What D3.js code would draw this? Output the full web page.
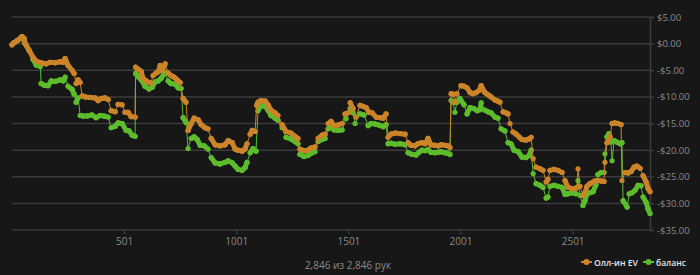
<!DOCTYPE html>
<html><head><meta charset="utf-8">
<script src="https://cdn.jsdelivr.net/npm/d3@7"></script>
<style>
html,body{margin:0;padding:0;background:#171717;}
svg{display:block;font-family:"Open Sans","Noto Sans",sans-serif;}
</style></head>
<body><svg id="c" width="700" height="275"></svg>
<script>
const totalHands = 2846;
const xTickValues = [501, 1001, 1501, 2001, 2501];
const yTickValues = [5, 0, -5, -10, -15, -20, -25, -30, -35];
const seriesNames = ["Олл-ин EV", "баланс"];
const footerText = "2,846 из 2,846 рук";

const evHands = [1,11,26,46,55,60,78,95,109,131,153,171,194,216,229,238,251,269,278,287,296,305,314,327,349,372,385,399,416,430,443,461,474,492,505,519,532,550,552,563,577,585,599,612,621,630,644,653,662,670,684,697,710,724,737,751,764,777,786,800,813,831,844,862,875,889,907,929,951,965,983,996,1009,1027,1040,1049,1063,1072,1085,1092,1098,1112,1130,1143,1156,1174,1187,1205,1223,1245,1263,1276,1285,1303,1321,1334,1352,1366,1384,1397,1411,1424,1437,1455,1473,1486,1500,1509,1522,1535,1553,1566,1580,1593,1607,1625,1642,1656,1669,1678,1691,1709,1731,1754,1767,1780,1798,1811,1829,1843,1856,1869,1887,1901,1914,1932,1945,1954,1959,1968,1976,1985,2003,2017,2030,2044,2057,2070,2084,2093,2110,2124,2137,2155,2168,2177,2191,2204,2213,2222,2235,2249,2262,2275,2293,2307,2316,2325,2338,2356,2369,2383,2391,2400,2418,2436,2454,2467,2480,2498,2511,2520,2525,2534,2547,2556,2565,2578,2592,2601,2614,2628,2641,2645,2654,2668,2677,2690,2703,2717,2721,2735,2748,2762,2775,2788,2802,2815,2829,2837,2846];
const evValues = [-0.2,0.2,0.6,1.3,1.0,0,-1.3,-2.6,-3.3,-3.6,-3.8,-3.5,-3.6,-3.4,-3.5,-2.8,-4.1,-5.0,-5.6,-7.5,-6.8,-7.3,-9.8,-10.0,-10.1,-10.2,-10.7,-10.3,-10.2,-10.5,-12.6,-12.8,-11.4,-11.5,-12.9,-12.9,-13.7,-13.8,-4.4,-4.8,-5.2,-6.5,-7.0,-7.3,-7.4,-6.0,-5.5,-5.3,-4.1,-5.0,-3.8,-5.5,-6.0,-6.3,-6.8,-7.3,-10.3,-11.0,-16.3,-15.0,-14.0,-14.3,-15.2,-15.8,-16.0,-17.8,-19.0,-19.2,-19.0,-18.2,-18.6,-19.8,-20.0,-20.2,-19.8,-18.8,-17.0,-16.3,-16.5,-11.6,-11.0,-10.7,-10.8,-11.5,-12.5,-13.0,-13.5,-15.2,-16.5,-16.8,-17.4,-17.8,-19.8,-20.1,-20.0,-19.6,-19.4,-17.8,-17.2,-17.0,-15.0,-14.6,-15.4,-15.3,-15.0,-13.2,-13.0,-11.1,-12.2,-13.8,-11.6,-11.8,-12.0,-12.9,-13.0,-13.8,-13.9,-14.0,-13.2,-17.6,-17.0,-16.8,-16.9,-17.0,-18.6,-19.1,-19.2,-18.8,-18.6,-18.8,-17.8,-19.0,-19.1,-19.2,-19.0,-19.1,-19.2,-19.5,-9.4,-9.5,-11.0,-9.4,-7.9,-8.0,-8.3,-9.2,-9.4,-9.2,-8.8,-7.9,-9.2,-9.6,-10.0,-10.6,-10.8,-11.0,-12.8,-13.0,-13.2,-15.0,-16.6,-17.0,-17.5,-18.0,-18.1,-17.9,-17.6,-21.6,-23.2,-23.5,-23.8,-26.0,-25.5,-23.8,-23.6,-23.8,-24.2,-25.7,-27.0,-27.2,-27.3,-27.0,-23.5,-26.8,-28.5,-28.0,-26.8,-26.3,-26.0,-25.8,-25.7,-25.8,-25.9,-22.3,-18.6,-17.5,-15.0,-14.9,-15.0,-15.2,-25.7,-24.2,-24.3,-24.0,-23.2,-23.0,-23.4,-24.8,-26.0,-27.2,-27.8];

const balHands = [1,11,26,46,60,78,95,109,127,131,145,162,176,194,216,229,238,251,269,278,287,296,305,318,336,358,376,394,412,430,443,461,474,492,510,523,537,550,552,563,577,594,612,626,639,653,666,684,697,710,728,742,755,764,777,786,800,813,827,840,858,875,889,907,929,951,965,983,996,1009,1027,1040,1049,1063,1076,1089,1098,1112,1130,1143,1156,1174,1187,1205,1223,1245,1263,1276,1285,1303,1321,1334,1352,1366,1384,1397,1411,1424,1437,1455,1473,1491,1509,1522,1531,1553,1571,1589,1602,1620,1638,1656,1669,1678,1691,1709,1731,1754,1767,1785,1803,1816,1829,1843,1856,1869,1887,1901,1914,1932,1945,1954,1959,1968,1976,1985,1998,2017,2030,2044,2061,2075,2088,2093,2110,2124,2137,2155,2168,2182,2199,2213,2226,2240,2258,2275,2293,2307,2316,2325,2338,2356,2369,2383,2391,2400,2418,2436,2454,2467,2480,2498,2516,2525,2534,2547,2556,2565,2578,2592,2605,2614,2628,2641,2645,2654,2663,2672,2677,2686,2699,2712,2721,2726,2744,2753,2766,2780,2793,2806,2815,2829,2837,2846];
const balValues = [-0.2,0.2,0.6,1.3,0,-1.3,-3.0,-4.0,-4.3,-7.5,-7.8,-7.9,-7.0,-7.1,-6.8,-7.0,-6.3,-8.0,-8.6,-9.5,-11.0,-10.2,-13.5,-13.6,-13.6,-13.4,-13.9,-13.5,-13.6,-13.8,-15.8,-15.5,-14.9,-15.0,-16.3,-16.4,-17.2,-17.4,-5.6,-6.2,-6.8,-8.0,-8.5,-8.2,-7.2,-7.0,-6.5,-5.4,-7.0,-7.5,-7.6,-8.3,-8.4,-13.9,-14.8,-19.7,-17.8,-17.5,-18.0,-19.1,-19.2,-19.8,-21.4,-22.4,-22.6,-22.3,-22.0,-22.4,-23.0,-23.6,-23.8,-23.3,-22.3,-20.5,-19.7,-20.2,-12.6,-11.6,-11.8,-12.5,-13.5,-14.0,-14.4,-15.8,-17.6,-17.9,-18.4,-18.8,-20.8,-21.2,-21.0,-20.6,-20.3,-18.4,-18.0,-17.8,-16.0,-15.6,-16.2,-16.3,-16.2,-14.1,-12.2,-13.0,-15.0,-13.2,-13.4,-15.4,-15.0,-15.1,-15.3,-15.6,-15.2,-18.8,-18.7,-18.9,-18.8,-19.0,-20.5,-20.8,-20.9,-20.4,-20.0,-20.1,-19.9,-20.4,-20.5,-20.4,-20.3,-20.5,-20.6,-20.8,-10.7,-11.0,-12.9,-11.0,-10.3,-11.5,-13.2,-12.0,-12.2,-12.6,-12.4,-11.1,-12.5,-12.8,-13.0,-13.8,-14.0,-16.0,-16.4,-18.6,-18.8,-20.0,-20.3,-21.3,-21.4,-21.0,-20.0,-24.4,-26.3,-26.6,-27.0,-29.0,-28.8,-26.8,-26.6,-26.8,-27.0,-28.3,-28.2,-28.0,-28.2,-25.7,-28.5,-30.4,-29.5,-28.2,-28.0,-27.8,-26.5,-24.6,-24.2,-24.2,-20.7,-17.5,-16.9,-18.5,-22.0,-18.2,-18.5,-18.8,-18.6,-29.5,-30.7,-28.2,-28.0,-27.5,-26.6,-26.7,-28.8,-29.8,-31.0,-31.9];

const colors = {ev: "#cc8428", bal: "#5cbc2b"};
const svg = d3.select("#c");
const m = {left: 12, right: 650, top: 17, bottom: 230};

const x = d3.scaleLinear().domain([1, totalHands]).range([m.left, m.right]);
const y = d3.scaleLinear().domain([-35, 5]).range([m.bottom, m.top]);

// gridlines
svg.append("g").selectAll("line").data(yTickValues).join("line")
  .attr("x1", m.left).attr("x2", m.right)
  .attr("y1", d => y(d)).attr("y2", d => y(d))
  .attr("stroke", "#3b3b3b").attr("stroke-width", 1.5);

// right axis
const yAxis = d3.axisRight(y).tickValues(yTickValues).tickSize(4).tickPadding(3)
  .tickFormat(d => (d < 0 ? "-$" : "$") + Math.abs(d).toFixed(2));
const gy = svg.append("g").attr("transform", `translate(${m.right},0)`).call(yAxis);
gy.select(".domain").attr("stroke", "#3b3b3b").attr("stroke-width", 1.5);
gy.selectAll(".tick line").attr("stroke", "#3b3b3b").attr("stroke-width", 1.5);
gy.selectAll(".tick text").attr("fill", "#8a8a8a").attr("font-size", 9.5).attr("font-family", "'Open Sans', sans-serif");

// bottom axis
const xAxis = d3.axisBottom(x).tickValues(xTickValues).tickSize(4).tickPadding(4).tickFormat(d3.format("d"));
const gx = svg.append("g").attr("transform", `translate(0,${m.bottom})`).call(xAxis);
gx.select(".domain").remove();
gx.selectAll(".tick line").attr("stroke", "#3b3b3b").attr("stroke-width", 1.5);
gx.selectAll(".tick text").attr("fill", "#8a8a8a").attr("font-size", 10).attr("font-family", "'Open Sans', sans-serif");

function drawSeries(hands, values, color) {
  const pts = hands.map((h, i) => [x(h), y(values[i])]);
  const g = svg.append("g");
  g.append("path").attr("d", d3.line()(pts)).attr("fill", "none")
    .attr("stroke", color).attr("stroke-width", 1);
  const segs = [];
  for (let i = 1; i < pts.length; i++) {
    if (Math.abs(pts[i][1] - pts[i-1][1]) < 7) segs.push([pts[i-1], pts[i]]);
  }
  g.selectAll("line.seg").data(segs).join("line").attr("class", "seg")
    .attr("x1", d => d[0][0]).attr("y1", d => d[0][1])
    .attr("x2", d => d[1][0]).attr("y2", d => d[1][1])
    .attr("stroke", color).attr("stroke-width", 5).attr("stroke-linecap", "round");
  g.selectAll("circle").data(pts).join("circle")
    .attr("cx", d => d[0]).attr("cy", d => d[1]).attr("r", 2.6).attr("fill", color);
}
drawSeries(balHands, balValues, colors.bal);
drawSeries(evHands, evValues, colors.ev);

// footer
svg.append("text").attr("x", 348).attr("y", 269).attr("text-anchor", "middle")
  .attr("fill", "#8a8a8a").attr("font-size", 10).text(footerText);

// legend
const legend = [
  {name: seriesNames[0], color: colors.ev, x: 581},
  {name: seriesNames[1], color: colors.bal, x: 643}
];
const lg = svg.append("g");
legend.forEach(l => {
  lg.append("line").attr("x1", l.x).attr("x2", l.x + 11).attr("y1", 262).attr("y2", 262)
    .attr("stroke", l.color).attr("stroke-width", 2);
  lg.append("circle").attr("cx", l.x + 5.5).attr("cy", 262).attr("r", 3).attr("fill", l.color);
  lg.append("text").attr("x", l.x + 13).attr("y", 265.5).attr("fill", "#e6e6e6")
    .attr("font-size", 9).attr("font-weight", 600).attr("textLength", l === legend[0] ? 44 : 30)
    .attr("lengthAdjust", "spacingAndGlyphs").text(l.name);
});
</script></body></html>
